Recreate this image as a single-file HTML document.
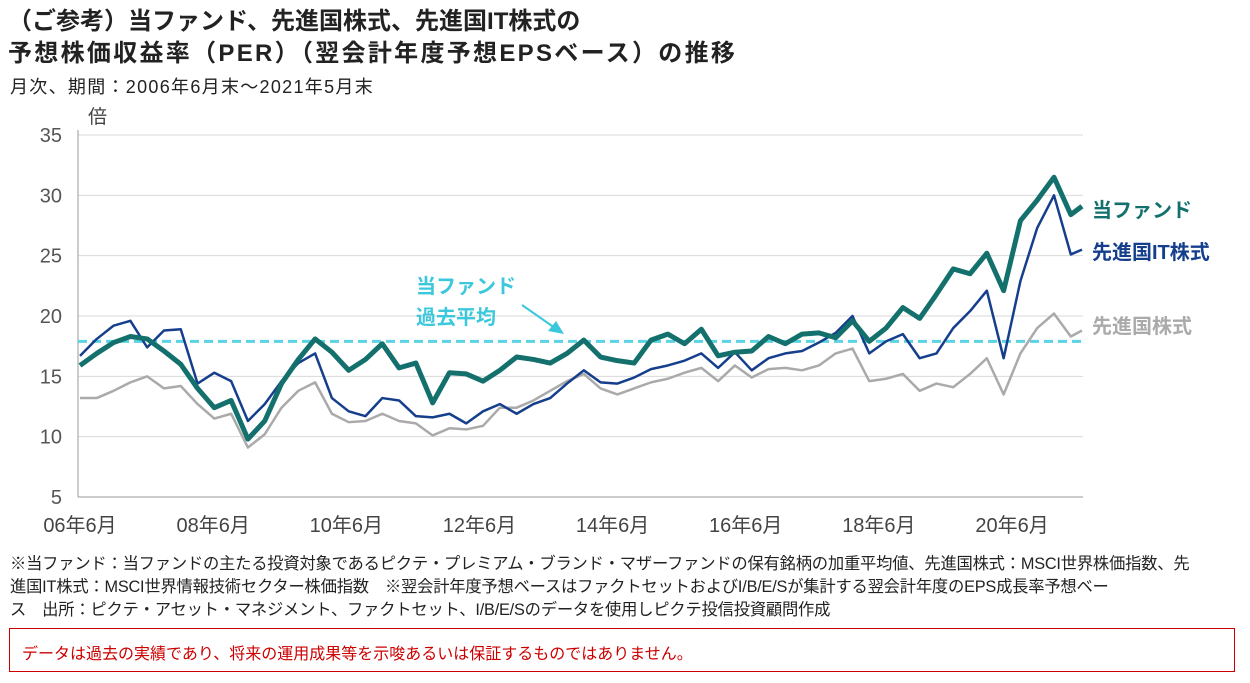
<!DOCTYPE html>
<html><head><meta charset="utf-8"><style>
body{margin:0;width:1250px;height:683px;background:#fff;overflow:hidden;font-family:"Liberation Sans","Noto Sans CJK JP",sans-serif;position:relative}
.t{position:absolute;white-space:nowrap}
</style></head><body>
<div class="t" style="left:8px;top:6px;font-size:24px;font-weight:bold;color:#222;line-height:32px">（ご参考）当ファンド、先進国株式、先進国IT株式の<br><span style="letter-spacing:2.3px">予想株価収益率（PER）（翌会計年度予想EPSベース）の推移</span></div>
<div class="t" style="left:10px;top:73px;font-size:18px;letter-spacing:1.3px;color:#222">月次、期間：2006年6月末～2021年5月末</div>
<svg id="c" width="1250" height="560" style="position:absolute;left:0;top:0"></svg>
<div class="t" style="left:10px;top:553px;font-size:16.3px;color:#222;line-height:23px;letter-spacing:-0.2px">※当ファンド：当ファンドの主たる投資対象であるピクテ・プレミアム・ブランド・マザーファンドの保有銘柄の加重平均値、先進国株式：MSCI世界株価指数、先<br>進国IT株式：MSCI世界情報技術セクター株価指数　※翌会計年度予想ベースはファクトセットおよびI/B/E/Sが集計する翌会計年度のEPS成長率予想ベー<br>ス　出所：ピクテ・アセット・マネジメント、ファクトセット、I/B/E/Sのデータを使用しピクテ投信投資顧問作成</div>
<div style="position:absolute;left:9px;top:628px;width:1226px;height:44px;border:1px solid #c00;box-sizing:border-box"><span class="t" style="left:12px;top:11px;font-size:16px;color:#c00">データは過去の実績であり、将来の運用成果等を示唆あるいは保証するものではありません。</span></div>
<script>
const months=[0,3,6,9,12,15,18,21,24,27,30,33,36,39,42,45,48,51,54,57,60,63,66,69,72,75,78,81,84,87,90,93,96,99,102,105,108,111,114,117,120,123,126,129,132,135,138,141,144,147,150,153,156,159,162,165,168,171,174,177,179];
const fund=[15.9,16.9,17.8,18.3,18.1,17.1,16.0,14.0,12.4,13.0,9.8,11.3,14.4,16.4,18.1,17.0,15.5,16.4,17.7,15.7,16.1,12.8,15.3,15.2,14.6,15.5,16.6,16.4,16.1,16.9,18.0,16.6,16.3,16.1,18.0,18.5,17.7,18.9,16.7,17.0,17.1,18.3,17.7,18.5,18.6,18.2,19.6,17.9,19.0,20.7,19.8,21.8,23.9,23.5,25.2,22.1,27.9,29.6,31.5,28.4,29.1];
const itStocks=[16.7,18.1,19.2,19.6,17.4,18.8,18.9,14.4,15.3,14.6,11.3,12.7,14.6,16.1,16.9,13.2,12.1,11.7,13.2,13.0,11.7,11.6,11.9,11.1,12.1,12.7,11.9,12.7,13.2,14.4,15.5,14.5,14.4,14.9,15.6,15.9,16.3,16.9,15.7,17.0,15.5,16.5,16.9,17.1,17.8,18.6,20.0,16.9,17.9,18.5,16.5,16.9,19.0,20.4,22.1,16.5,22.9,27.3,30.0,25.1,25.5];
const world=[13.2,13.2,13.8,14.5,15.0,14.0,14.2,12.7,11.5,11.9,9.1,10.2,12.4,13.8,14.5,11.9,11.2,11.3,11.9,11.3,11.1,10.1,10.7,10.6,10.9,12.4,12.4,13.0,13.8,14.6,15.2,14.0,13.5,14.0,14.5,14.8,15.3,15.7,14.6,15.9,14.9,15.6,15.7,15.5,15.9,16.9,17.3,14.6,14.8,15.2,13.8,14.4,14.1,15.2,16.5,13.5,16.9,19.0,20.2,18.3,18.8];
const fundAvg=17.9;
const yTicks=[5,10,15,20,25,30,35];
const xTickLabels=["06年6月","08年6月","10年6月","12年6月","14年6月","16年6月","18年6月","20年6月"];
const xTickMonths=[0,24,48,72,96,120,144,168];
const NS="http://www.w3.org/2000/svg";
const svg=document.getElementById('c');
const x=m=>80+m*1002/179;
const y=v=>497-(v-5)*362/30;
function mk(t,a){const e=document.createElementNS(NS,t);for(const k in a)e.setAttribute(k,a[k]);svg.appendChild(e);return e;}
yTicks.forEach(v=>{
 if(v>5){const g=mk('line',{x1:78,x2:1083,y1:y(v),y2:y(v),stroke:'#d9d9d9','stroke-width':1});
 
 }
 const t=mk('text',{x:62,y:y(v)+7,'text-anchor':'end','font-size':20,fill:'#555'});t.textContent=v;
 
 
});
const ya=mk('line',{x1:78,x2:78,y1:130,y2:497,stroke:'#999'});


const xa=mk('line',{x1:78,x2:1083,y1:497,y2:497,stroke:'#999'});


const yu=mk('text',{x:88,y:123,'font-size':19,fill:'#444'});yu.textContent='倍';


xTickLabels.forEach((l,i)=>{const t=mk('text',{x:x(xTickMonths[i])-i*1.2,y:532,'text-anchor':'middle','font-size':20,fill:'#444'});t.textContent=l;
 
 });
const av=mk('line',{x1:78,x2:1083,y1:y(fundAvg),y2:y(fundAvg),stroke:'#5bd3e3','stroke-width':3,'stroke-dasharray':'9,5'});


function series(arr,col,w,name){const p=mk('polyline',{points:arr.map((v,i)=>x(months[i])+','+y(v)).join(' '),fill:'none',stroke:col,'stroke-width':w,'stroke-linejoin':'round'});
 
 }
series(world,'#aaaaaa',2.5,'series-developed-stocks');
series(itStocks,'#153f8c',2.5,'series-developed-it-stocks');
series(fund,'#13706d',5,'series-fund');
function lbl(txt,xx,yy,col,name){const t=mk('text',{x:xx,y:yy,'font-size':20,'font-weight':'bold',fill:col});t.textContent=txt;
 
 }
lbl('当ファンド',1092,217,'#13706d','legend-fund');
lbl('先進国IT株式',1092,259,'#153f8c','legend-it-stocks');
lbl('先進国株式',1092,333,'#aaaaaa','legend-developed-stocks');
lbl('当ファンド',416,293,'#3cc8dc','average-label-line1');
lbl('過去平均',416,324,'#3cc8dc','average-label-line2');
const ar=mk('line',{x1:522,y1:305,x2:555,y2:328,stroke:'#3cc8dc','stroke-width':2});


const ah=mk('polygon',{points:'564,334 548,331 556,321',fill:'#3cc8dc'});


</script>
</body></html>
